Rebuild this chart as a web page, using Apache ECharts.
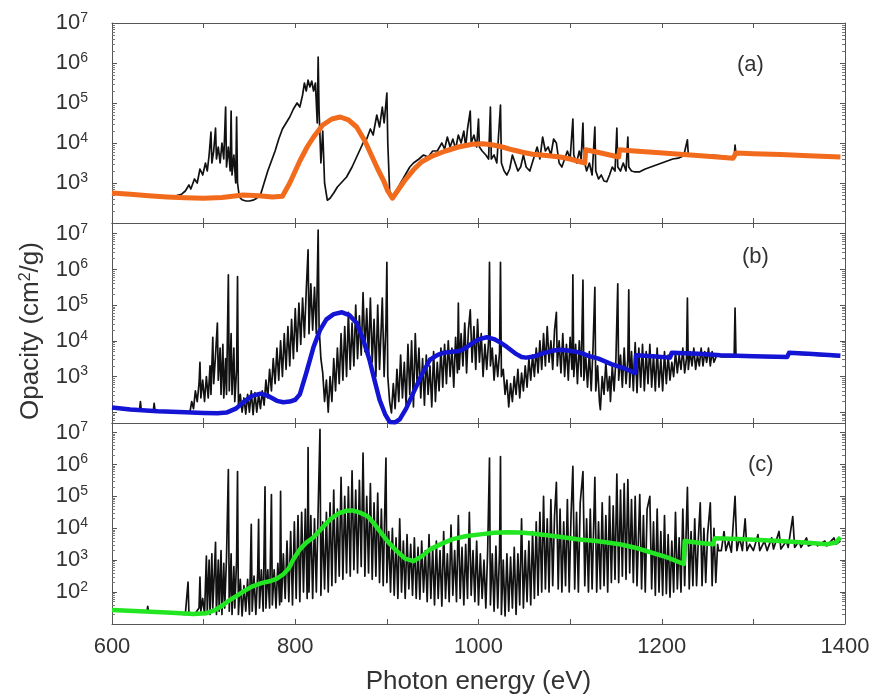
<!DOCTYPE html>
<html><head><meta charset="utf-8">
<script src="https://cdn.jsdelivr.net/npm/echarts@6/dist/echarts.min.js"></script>
<style>html,body{margin:0;padding:0;background:#fff}#c{width:880px;height:698px}</style>
</head><body><div id="c"></div>
<script>
// Readings: [photon energy (eV), log10 of opacity (cm^2/g)]
const xTickLabels = [600, 800, 1000, 1200, 1400];
const yTickLabelExps = [[3,4,5,6,7],[3,4,5,6,7],[2,3,4,5,6,7]];
const panelLabels = ['(a)', '(b)', '(c)'];

const aBlack = [[670,2.68],[676,2.72],[680,2.8],[684,2.95],[686,2.85],[690,3.1],[693,3.0],[696,3.35],[699,3.2],[702,3.5],[704,3.3],[706,3.7],[708,4.27],[709,3.5],[711,3.8],[713,4.37],[714,3.6],[716,3.9],[718,3.5],[720,4.0],[722,3.6],[724,4.9],[725,3.4],[727,3.9],[729,3.3],[730,4.8],[731,3.2],[733,3.7],[735,3.0],[736,4.65],[737,3.0],[739,2.65],[742,2.58],[746,2.55],[750,2.55],[754,2.57],[758,2.62],[762,2.7],[766,3.0],[770,3.3],[774,3.55],[778,3.8],[782,4.1],[786,4.35],[790,4.5],[794,4.65],[798,4.85],[802,5.0],[805,4.9],[808,5.2],[810,5.5],[812,5.3],[814,5.57],[816,5.4],[818,5.55],[820,5.3],[822,5.5],[824,4.5],[825,6.15],[826,4.8],[828,3.5],[830,4.3],[832,3.0],[835,2.57],[838,2.62],[842,2.75],[846,2.9],[850,3.0],[856,3.15],[862,3.4],[868,3.7],[874,4.0],[878,4.1],[882,4.35],[885,4.2],[889,4.7],[892,4.4],[895,4.9],[897,4.5],[900,5.25],[901,4.0],[903,2.8],[906,2.65],[910,2.8],[915,3.0],[920,3.2],[925,3.4],[929,3.5],[935,3.6],[940,3.7],[945,3.65],[950,3.8],[955,3.8],[960,4.0],[963,3.85],[966,4.15],[969,3.9],[972,4.1],[975,3.85],[978,4.2],[981,4.0],[984,4.3],[986,3.9],[988,4.35],[991,4.8],[992,4.0],[995,4.2],[998,3.9],[1000,4.6],[1001,3.9],[1004,3.8],[1008,3.7],[1011,3.6],[1013,4.9],[1014,3.6],[1017,3.7],[1020,3.5],[1024,4.95],[1025,3.5],[1028,3.3],[1031,3.2],[1034,3.35],[1037,3.7],[1040,3.5],[1043,3.3],[1046,3.4],[1049,3.7],[1052,3.4],[1056,3.3],[1060,3.6],[1064,3.9],[1067,3.6],[1070,4.15],[1073,3.8],[1076,3.9],[1079,3.7],[1082,4.1],[1085,4.0],[1088,3.5],[1091,3.4],[1094,3.6],[1097,3.8],[1100,3.6],[1103,4.6],[1104,3.7],[1107,3.5],[1110,3.8],[1112,3.6],[1114,4.5],[1115,3.6],[1118,3.3],[1121,3.5],[1124,3.2],[1127,4.4],[1128,3.3],[1131,3.1],[1134,3.2],[1137,3.05],[1140,3.03],[1143,3.2],[1146,3.4],[1149,3.3],[1151,4.37],[1152,3.4],[1155,3.3],[1158,3.5],[1161,3.3],[1163,4.15],[1164,3.4],[1167,3.3],[1170,3.28],[1176,3.28],[1182,3.35],[1188,3.4],[1194,3.45],[1200,3.5],[1206,3.55],[1212,3.6],[1218,3.62],[1224,3.68],[1228,4.08],[1229,3.7],[1236,3.7],[1250,3.7],[1265,3.68],[1279,3.62],[1280,3.95],[1281,3.72],[1300,3.72],[1330,3.7],[1360,3.68],[1394,3.65]];

const aOrange = [[600,2.75],[620,2.72],[640,2.68],[660,2.65],[680,2.63],[700,2.62],[720,2.64],[743,2.7],[760,2.68],[775,2.65],[786,2.67],[794,3.0],[800,3.3],[805,3.55],[813,3.9],[820,4.15],[830,4.45],[840,4.6],[849,4.65],[858,4.58],[867,4.4],[876,4.05],[884,3.65],[890,3.35],[896,3.08],[901,2.8],[906,2.62],[913,2.85],[920,3.08],[929,3.33],[938,3.53],[950,3.68],[964,3.8],[978,3.9],[993,3.97],[1005,3.98],[1016,3.95],[1026,3.9],[1037,3.83],[1048,3.77],[1059,3.72],[1074,3.69],[1089,3.65],[1100,3.6],[1116,3.5],[1117,3.83],[1130,3.77],[1153,3.65],[1154,3.83],[1170,3.8],[1190,3.77],[1220,3.72],[1250,3.67],[1278,3.62],[1281,3.75],[1300,3.73],[1330,3.71],[1360,3.68],[1395,3.65]];

const bBlack = [[600,2.1],[630,2.05],[631,2.3],[632,2.05],[645,2.02],[646,2.25],[647,2.02],[670,2.0],[685,2.0],[687,2.3],[689,2.1],[691,2.6],[693,2.3],[695,2.8],[696,3.4],[697,2.4],[699,2.9],[701,2.3],[703,3.0],[705,2.4],[707,3.3],[708,2.5],[710,4.1],[711,2.8],[713,3.6],[715,4.5],[716,2.9],[718,3.8],[719,2.5],[721,3.9],[722,2.4],[724,3.5],[725,2.5],[727,5.85],[728,2.6],[730,4.2],[731,2.5],[733,3.8],[734,2.3],[736,3.2],[737,5.8],[738,2.2],[740,2.5],[742,2.0],[744,2.4],[746,1.95],[748,2.5],[750,2.0],[752,2.6],[754,1.93],[756,2.55],[758,2.0],[760,2.5],[762,2.1],[764,2.6],[766,2.2],[768,2.9],[770,2.4],[772,3.2],[774,2.6],[776,3.5],[778,2.8],[780,3.8],[782,2.9],[784,4.0],[786,3.0],[788,4.2],[790,3.2],[792,4.4],[794,3.3],[796,4.6],[798,3.5],[800,4.9],[802,3.7],[804,5.06],[806,3.9],[808,5.2],[810,4.1],[812,5.4],[814,6.55],[815,4.2],[817,5.6],[819,4.3],[821,5.5],[823,4.2],[825,7.1],[826,4.4],[828,3.5],[830,3.1],[832,2.3],[834,2.9],[836,2.0],[838,3.0],[840,2.3],[842,3.5],[844,2.6],[846,3.8],[848,2.8],[850,4.2],[852,2.9],[854,4.4],[856,3.0],[858,4.8],[860,3.2],[862,4.5],[864,3.3],[866,5.0],[868,3.5],[870,4.7],[872,3.6],[874,5.35],[876,3.7],[878,4.9],[880,3.5],[882,5.2],[884,3.4],[886,4.6],[888,3.0],[890,5.0],[892,3.2],[894,4.5],[895,5.2],[897,3.0],[899,4.5],[900,6.2],[901,3.0],[903,2.3],[905,1.98],[907,2.8],[909,2.1],[911,3.2],[913,2.3],[915,3.6],[917,2.4],[919,3.4],[921,2.2],[923,3.9],[925,2.5],[927,4.0],[929,2.15],[931,4.2],[933,2.8],[935,3.8],[937,2.4],[939,3.5],[941,2.2],[943,3.6],[945,2.5],[947,3.3],[949,2.15],[951,3.7],[953,2.3],[955,3.4],[957,2.6],[959,3.8],[961,2.7],[963,3.9],[965,2.8],[967,4.0],[969,3.0],[971,3.8],[973,2.7],[975,4.1],[977,3.1],[978,5.06],[979,3.2],[981,4.2],[983,3.3],[985,4.5],[987,3.1],[989,4.3],[991,4.87],[993,3.4],[995,4.4],[997,3.2],[999,4.6],[1001,3.4],[1003,4.2],[1005,3.0],[1007,3.9],[1009,3.2],[1011,4.0],[1012,6.2],[1013,3.3],[1015,3.8],[1017,2.9],[1019,3.6],[1021,3.0],[1023,3.7],[1024,6.2],[1025,3.0],[1027,3.2],[1029,2.5],[1031,2.9],[1033,2.15],[1035,2.8],[1037,2.3],[1039,3.0],[1041,2.5],[1043,3.2],[1045,2.4],[1047,3.1],[1049,2.6],[1051,3.3],[1053,2.7],[1055,3.5],[1057,2.9],[1059,3.6],[1061,3.0],[1063,3.8],[1065,3.1],[1067,4.0],[1069,3.2],[1071,4.2],[1073,3.3],[1075,4.4],[1077,3.4],[1079,4.0],[1081,3.2],[1083,4.3],[1085,4.8],[1086,3.3],[1088,4.0],[1090,3.1],[1092,4.2],[1094,3.0],[1096,3.9],[1098,2.9],[1100,4.1],[1102,3.2],[1103,5.85],[1104,3.0],[1106,3.9],[1108,2.8],[1110,4.0],[1112,3.0],[1114,5.7],[1115,2.9],[1117,3.6],[1119,2.7],[1121,3.7],[1123,2.6],[1125,3.8],[1127,5.5],[1128,2.6],[1130,3.3],[1132,2.3],[1133,2.07],[1135,3.0],[1137,2.5],[1139,3.4],[1141,2.6],[1143,3.0],[1144,2.3],[1146,3.3],[1148,2.6],[1150,3.5],[1152,5.6],[1153,2.9],[1155,3.6],[1157,2.7],[1159,3.8],[1161,2.8],[1163,3.5],[1164,5.43],[1165,2.7],[1167,3.7],[1169,2.6],[1171,3.95],[1173,2.55],[1175,3.8],[1177,2.7],[1179,3.9],[1181,2.6],[1183,3.7],[1185,2.8],[1187,3.9],[1189,2.7],[1191,3.6],[1193,2.6],[1195,3.8],[1197,2.7],[1199,3.5],[1201,2.6],[1203,3.7],[1205,2.8],[1207,3.6],[1209,2.9],[1211,3.4],[1213,3.0],[1215,3.7],[1217,3.1],[1219,3.6],[1221,3.2],[1223,3.8],[1225,3.1],[1227,3.5],[1228,5.2],[1229,3.2],[1231,3.7],[1233,3.3],[1235,3.8],[1237,3.2],[1239,3.6],[1241,3.3],[1243,3.8],[1245,3.3],[1247,3.7],[1249,3.4],[1251,3.8],[1253,3.3],[1255,3.7],[1257,3.4],[1260,3.6],[1265,3.55],[1270,3.55],[1279,3.55],[1280,4.92],[1281,3.6],[1283,3.65],[1300,3.55],[1337,3.52],[1339,3.64],[1394,3.56]];

const bBlue = [[600,2.13],[620,2.08],[650,2.03],[680,2.0],[700,1.98],[715,1.97],[725,1.99],[735,2.1],[743,2.27],[752,2.45],[762,2.52],[771,2.45],[780,2.32],[787,2.28],[794,2.3],[800,2.35],[805,2.5],[812,3.1],[820,3.83],[827,4.3],[834,4.6],[842,4.75],[851,4.8],[859,4.72],[867,4.5],[874,4.05],[881,3.47],[887,2.85],[892,2.35],[898,1.95],[903,1.73],[909,1.72],[914,1.8],[921,2.1],[929,2.55],[938,3.05],[947,3.47],[955,3.6],[962,3.67],[970,3.69],[980,3.72],[987,3.82],[994,3.95],[1001,4.05],[1009,4.1],[1017,4.05],[1024,3.95],[1031,3.83],[1040,3.65],[1047,3.55],[1052,3.53],[1060,3.56],[1070,3.65],[1080,3.72],[1089,3.75],[1100,3.72],[1111,3.67],[1120,3.58],[1131,3.5],[1145,3.35],[1160,3.22],[1171,3.1],[1172,3.6],[1190,3.57],[1209,3.53],[1211,3.67],[1240,3.64],[1264,3.6],[1300,3.57],[1337,3.55],[1339,3.67],[1360,3.64],[1395,3.58]];

const cBlack = [[600,1.42],[638,1.38],[639,1.55],[640,1.38],[680,1.3],[683,2.31],[684,1.3],[690,1.3],[695,1.5],[696,2.47],[697,1.4],[699,1.8],[701,1.3],[703,3.13],[704,1.4],[706,3.0],[707,1.3],[709,3.2],[710,1.5],[712,2.8],[713,3.56],[714,1.3],[716,3.0],[717,1.4],[719,3.3],[720,1.3],[722,2.9],[723,1.5],[725,3.1],[727,5.84],[728,1.4],[730,3.2],[731,1.3],[733,2.8],[734,1.5],[736,3.0],[737,5.78],[738,1.3],[740,2.4],[742,1.25],[744,2.2],[746,1.4],[748,2.4],[750,1.3],[752,4.12],[753,1.4],[755,2.5],[757,1.3],[759,2.6],[760,4.28],[761,1.5],[763,2.7],[765,1.4],[767,5.3],[768,1.5],[770,2.7],[772,1.5],[774,5.06],[775,1.6],[777,2.7],[779,1.5],[781,2.9],[783,1.6],[784,5.16],[785,1.7],[787,3.2],[789,1.8],[791,3.6],[793,1.7],[795,3.9],[797,1.6],[799,4.2],[801,1.8],[803,4.4],[805,1.7],[807,4.5],[809,2.0],[811,4.6],[813,1.8],[814,6.53],[815,2.0],[817,4.4],[819,1.8],[821,4.3],[823,2.0],[825,4.6],[827,7.1],[828,1.9],[830,4.2],[832,2.1],[834,4.5],[836,2.0],[838,4.8],[840,2.2],[842,5.2],[844,2.3],[846,4.6],[848,2.5],[850,5.6],[852,2.4],[854,5.0],[856,2.6],[858,5.3],[860,2.5],[862,5.8],[864,2.7],[866,5.2],[868,2.6],[870,5.5],[872,2.8],[874,6.36],[876,2.5],[878,5.0],[880,2.6],[882,5.4],[884,2.4],[886,4.8],[888,2.5],[890,5.1],[892,2.3],[894,4.6],[896,2.2],[898,5.0],[899,6.2],[900,2.3],[902,3.9],[904,2.0],[906,4.0],[908,1.9],[910,3.7],[912,1.8],[914,4.3],[916,2.0],[918,3.6],[920,1.8],[922,3.8],[924,2.1],[926,3.5],[928,1.9],[930,3.7],[932,1.8],[934,3.4],[936,1.78],[938,3.6],[940,2.0],[942,3.3],[944,1.7],[946,3.8],[948,1.8],[950,3.4],[952,1.6],[954,3.6],[956,1.8],[958,3.3],[960,1.56],[962,3.9],[964,1.8],[966,3.2],[968,1.7],[970,4.1],[972,1.9],[974,3.3],[976,1.7],[978,4.4],[980,1.8],[982,3.4],[984,1.6],[986,3.5],[988,1.8],[990,4.5],[992,1.9],[994,3.3],[996,1.7],[998,3.6],[1000,1.6],[1002,3.2],[1004,1.8],[1006,3.0],[1008,1.5],[1010,3.3],[1012,6.2],[1013,1.6],[1015,3.2],[1017,1.4],[1019,3.44],[1021,1.5],[1023,3.3],[1024,6.25],[1025,1.3],[1027,3.0],[1029,1.25],[1031,3.2],[1033,1.4],[1035,3.1],[1037,1.5],[1039,3.4],[1041,1.3],[1043,3.2],[1045,1.6],[1047,4.3],[1049,1.5],[1051,3.3],[1053,1.7],[1055,3.6],[1057,1.6],[1059,3.9],[1061,1.8],[1063,4.2],[1065,1.9],[1067,4.5],[1069,2.0],[1071,5.0],[1073,2.1],[1075,4.3],[1077,2.0],[1079,4.9],[1081,2.2],[1083,4.4],[1085,5.44],[1087,2.1],[1089,4.6],[1091,2.0],[1093,4.2],[1095,2.2],[1097,4.9],[1099,2.0],[1101,4.4],[1103,5.94],[1105,2.1],[1107,4.5],[1109,2.0],[1111,4.8],[1114,5.78],[1116,2.2],[1118,4.3],[1120,2.0],[1122,4.6],[1124,2.1],[1127,5.6],[1129,2.0],[1131,4.2],[1133,2.1],[1135,4.8],[1137,2.2],[1139,4.4],[1141,2.0],[1143,5.0],[1145,2.3],[1147,4.7],[1149,2.4],[1151,5.7],[1153,2.3],[1155,5.2],[1157,2.5],[1159,5.4],[1161,2.4],[1163,5.53],[1165,2.6],[1167,4.9],[1169,2.3],[1171,5.0],[1173,2.2],[1176,5.06],[1178,2.1],[1180,4.4],[1182,2.0],[1184,4.6],[1187,5.0],[1189,2.1],[1191,4.2],[1193,1.9],[1195,4.6],[1197,2.0],[1199,3.9],[1201,1.9],[1203,4.4],[1205,1.95],[1207,3.8],[1209,1.84],[1211,3.6],[1213,2.0],[1215,4.5],[1217,2.1],[1219,3.7],[1221,2.0],[1223,4.6],[1225,2.2],[1228,5.28],[1230,2.1],[1232,3.9],[1234,2.2],[1236,4.3],[1238,2.2],[1240,3.7],[1242,4.8],[1244,2.2],[1246,4.0],[1248,2.3],[1250,3.8],[1253,4.8],[1255,2.2],[1257,4.0],[1259,2.3],[1261,3.5],[1262,3.3],[1265,3.3],[1268,3.9],[1270,3.3],[1273,3.6],[1276,3.25],[1280,5.0],[1282,3.3],[1285,3.7],[1288,3.3],[1291,4.3],[1293,3.3],[1296,3.5],[1300,3.3],[1305,3.8],[1307,3.3],[1312,3.6],[1315,3.3],[1320,3.7],[1322,3.35],[1328,3.9],[1330,3.35],[1336,3.6],[1338,3.4],[1343,4.37],[1345,3.4],[1350,3.6],[1352,3.4],[1358,3.7],[1360,3.45],[1368,3.55],[1370,3.45],[1378,3.6],[1380,3.45],[1388,3.7],[1390,3.5],[1395,3.6]];

const cGreen = [[600,1.44],[630,1.4],[660,1.36],[689,1.31],[703,1.34],[711,1.42],[718,1.53],[727,1.72],[736,1.88],[745,2.05],[754,2.19],[763,2.28],[772,2.34],[780,2.42],[787,2.56],[793,2.75],[798,3.03],[805,3.34],[812,3.55],[820,3.72],[829,4.0],[838,4.28],[848,4.48],[856,4.55],[862,4.56],[870,4.5],[879,4.38],[886,4.15],[893,3.88],[902,3.55],[911,3.28],[920,3.05],[929,2.97],[938,3.12],[947,3.34],[960,3.52],[972,3.66],[987,3.76],[1002,3.81],[1017,3.86],[1031,3.88],[1045,3.87],[1059,3.84],[1075,3.78],[1092,3.72],[1110,3.65],[1129,3.6],[1154,3.5],[1170,3.4],[1184,3.28],[1206,3.09],[1224,2.88],[1225,3.6],[1240,3.55],[1256,3.5],[1258,3.69],[1290,3.66],[1329,3.6],[1360,3.55],[1380,3.5],[1390,3.55],[1395,3.72]];

const FONT = '"Liberation Sans", Arial, sans-serif';
const toVal = arr => arr.map(p => [p[0], Math.pow(10, p[1])]);

const grids = [
  {left:112, top:23, width:733, height:200},
  {left:112, top:223, width:733, height:200},
  {left:112, top:423, width:733, height:201}
];
const yRange = [[1e2, 1e7], [50, 2e7], [10, 2e7]];

const xAxes = [], yAxes = [];
for (let i = 0; i < 3; i++) {
  const isLast = i === 2;
  xAxes.push({
    type:'value', gridIndex:i, min:600, max:1400, interval:100, position:'bottom',
    axisLine:{show:true, lineStyle:{color:'#555', width:1}},
    axisTick:{show:true, inside:true, length:5, lineStyle:{color:'#555'}},
    splitLine:{show:false},
    axisLabel:{show:isLast, margin:12, fontSize:22, color:'#333', fontFamily:FONT,
      formatter: v => xTickLabels.indexOf(v) >= 0 ? String(v) : ''},
    name: isLast ? 'Photon energy (eV)' : '', nameLocation:'middle', nameGap:45,
    nameTextStyle:{fontSize:26, color:'#333', fontFamily:FONT}
  });
  xAxes.push({
    type:'value', gridIndex:i, min:600, max:1400, interval:100, position:'top',
    axisLine:{show:true, lineStyle:{color:'#555', width:1}},
    axisTick:{show:true, inside:true, length:5, lineStyle:{color:'#555'}},
    splitLine:{show:false}, axisLabel:{show:false}
  });
  const exps = yTickLabelExps[i];
  yAxes.push({
    type:'log', logBase:10, gridIndex:i, min:yRange[i][0], max:yRange[i][1], position:'left',
    axisLine:{show:true, lineStyle:{color:'#555', width:1}},
    axisTick:{show:true, inside:true, length:5, lineStyle:{color:'#555'}},
    minorTick:{show:true, splitNumber:9, length:3, lineStyle:{color:'#777'}},
    splitLine:{show:false},
    axisLabel:{show:true, margin:24, showMinLabel:true, showMaxLabel:true,
      formatter: v => {
        const e = Math.log10(v), r = Math.round(e);
        if (Math.abs(e - r) > 0.01 || exps.indexOf(r) < 0) return '';
        return '{b|10}{s|' + r + '}';
      },
      rich:{
        b:{fontSize:22, color:'#333', fontFamily:FONT, lineHeight:24},
        s:{fontSize:14, color:'#333', fontFamily:FONT, verticalAlign:'top', lineHeight:14}
      }
    },
    name: i === 1 ? 'Opacity (cm{s|2}/g)' : '', nameLocation:'middle', nameGap:68, nameRotate:90,
    nameTextStyle:{fontSize:26, color:'#333', fontFamily:FONT, padding:[0,16,0,0],
      rich:{s:{fontSize:16, color:'#333', fontFamily:FONT, verticalAlign:'top'}}}
  });
  yAxes.push({
    type:'log', logBase:10, gridIndex:i, min:yRange[i][0], max:yRange[i][1], position:'right',
    axisLine:{show:true, lineStyle:{color:'#555', width:1}},
    axisTick:{show:true, inside:true, length:5, lineStyle:{color:'#555'}},
    minorTick:{show:true, splitNumber:9, length:3, lineStyle:{color:'#777'}},
    splitLine:{show:false}, axisLabel:{show:false}
  });
}

function line(data, i, color, width, z) {
  return {type:'line', xAxisIndex:2*i, yAxisIndex:2*i, data:toVal(data), showSymbol:false, symbol:'none',
    lineStyle:{color:color, width:width, join:'round'}, z:z, silent:true, animation:false};
}

const chart = echarts.init(document.getElementById('c'), null, {renderer:'canvas'});
chart.setOption({
  backgroundColor:'#fff', animation:false,
  grid: grids,
  xAxis: xAxes, yAxis: yAxes,
  series: [
    line(aBlack, 0, '#111', 1.7, 2), line(aOrange, 0, '#F26B1D', 5, 3),
    line(bBlack, 1, '#111', 1.7, 2), line(bBlue, 1, '#1414D4', 4.5, 3),
    line(cBlack, 2, '#111', 1.7, 2), line(cGreen, 2, '#22E622', 4.5, 3)
  ],
  graphic: [
    {type:'text', left:737, top:54, style:{text:panelLabels[0], font:'22px ' + FONT, fill:'#333'}},
    {type:'text', left:742, top:246, style:{text:panelLabels[1], font:'22px ' + FONT, fill:'#333'}},
    {type:'text', left:748, top:454, style:{text:panelLabels[2], font:'22px ' + FONT, fill:'#333'}}
  ]
});
</script></body></html>
